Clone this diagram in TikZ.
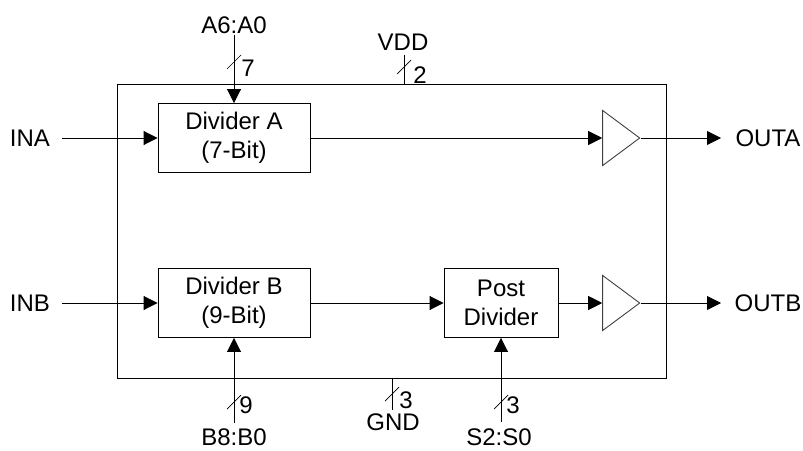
\documentclass[tikz,border=0pt]{standalone}
\usepackage{fontspec}
\setmainfont{Liberation Sans}
\usetikzlibrary{arrows.meta,shapes.geometric}
\begin{document}
\begin{tikzpicture}[x=1pt,y=-1pt,
  every node/.style={font=\fontsize{24}{29.5}\selectfont},
  blk/.style={draw,line width=0.9pt,inner sep=0pt,align=center,minimum height=69pt},
  buf/.style={draw,line width=0.9pt,draw=black!75,isosceles triangle,isosceles triangle stretches=true,minimum height=37pt,minimum width=55pt,inner sep=0pt},
  sig/.style={line width=0.9pt,-{Triangle[length=14pt,width=14pt]}},
  wire/.style={line width=0.9pt},
  lbl/.style={inner sep=0pt},
  slash/.style={line width=0.7pt}]
\useasboundingbox (0,0) rectangle (803,450);
% chip outline
\node[draw,line width=0.9pt,minimum width=549pt,minimum height=294pt,inner sep=0pt] (chip) at (391.5,231) {};
% blocks
\node[blk,minimum width=152pt] (divA) at (234,138) {Divider A\\(7-Bit)};
\node[blk,minimum width=152pt] (divB) at (234,303) {Divider B\\(9-Bit)};
\node[blk,minimum width=114pt] (post) at (501,303) {Post\\Divider};
\node[buf] (bufA) at (616.5,138) {};
\node[buf] (bufB) at (616.5,303) {};
% labels
\node[lbl] (ina) at (30,138) {INA};
\node[lbl] (inb) at (30,303) {INB};
\node[lbl] (outa) at (768,138) {OUTA};
\node[lbl] (outb) at (768,303) {OUTB};
\node[lbl] (abus) at (234,25) {A6:A0};
\node[lbl] (vddl) at (403,42) {VDD};
\node[lbl] (gndl) at (393,422) {GND};
\node[lbl] (bbus) at (234,437) {B8:B0};
\node[lbl] (sbus) at (499,437) {S2:S0};
% coordinates for free ends
\coordinate (inA) at (62,138);
\coordinate (inB) at (62,303);
\coordinate (oA) at (721,138);
\coordinate (oB) at (721,303);
\coordinate (pA) at (234,35);
\coordinate (pB) at (234,423);
\coordinate (pS) at (501,422);
\coordinate (vdd) at (404,55);
\coordinate (gnd) at (392,410);
% connectors
\draw[sig] (inA) -- (divA.west);
\draw[sig] (inB) -- (divB.west);
\draw[sig] (divA.east) -- (bufA.west);
\draw[sig] (divB.east) -- (post.west);
\draw[sig] (post.east) -- (bufB.west);
\draw[sig] (bufA.apex) -- (oA);
\draw[sig] (bufB.apex) -- (oB);
\draw[sig] (pA) -- (divA.north);
\draw[sig] (pB) -- (divB.south);
\draw[sig] (pS) -- (post.south);
\draw[wire] (vdd) -- (vdd |- chip.north);
\draw[wire] (chip.south -| gnd) -- (gnd);
% bus slashes
\coordinate (sA) at (234,62);
\coordinate (sV) at (404,67);
\coordinate (sG) at (392,394);
\coordinate (sB) at (234,402);
\coordinate (sS) at (501,402);
\foreach \c in {sA,sV,sG,sB,sS}
  \draw[slash] ([shift={(-7,7)}]\c) -- ([shift={(7,-7)}]\c);
\node[lbl] (nA) at (248,68) {7};
\node[lbl] (nV) at (420,75) {2};
\node[lbl] (nG) at (406,400) {3};
\node[lbl] (nB) at (246,405) {9};
\node[lbl] (nS) at (513,405) {3};
\end{tikzpicture}
\end{document}
